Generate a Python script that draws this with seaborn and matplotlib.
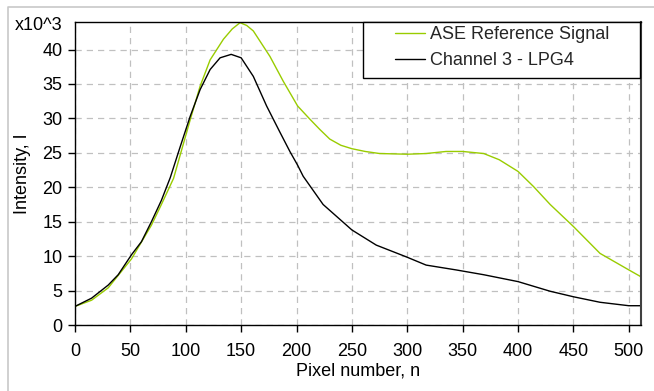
import matplotlib
matplotlib.use("Agg")
import matplotlib.pyplot as plt
import seaborn as sns
import pandas as pd
from matplotlib.lines import Line2D
from matplotlib.patches import Rectangle

# Data (intensity in units of 10^3)
ase_x = [0, 15, 30, 51, 69, 78, 89, 104, 113, 122, 134, 142, 149, 155, 161, 176, 188, 201, 212,
         221, 230, 240, 250, 262, 275, 300, 317, 335, 350, 369, 383, 400, 414, 429, 450, 474, 500, 511]
ase_y = [2.7, 3.6, 5.4, 9.6, 14.5, 17.5, 21.3, 29.8, 34.7, 38.5, 41.5, 43.0, 43.9, 43.5, 42.7, 39.0, 35.4, 31.8, 29.9,
         28.4, 27.0, 26.1, 25.6, 25.2, 24.9, 24.8, 24.9, 25.2, 25.2, 24.9, 24.0, 22.3, 20.1, 17.5, 14.3, 10.4, 8.0, 7.0]

ch3_x = [0, 15, 30, 39, 51, 60, 69, 78, 86, 95, 104, 113, 122, 131, 141, 150, 161, 173, 185,
         194, 201, 206, 224, 250, 272, 299, 317, 344, 369, 400, 429, 450, 474, 500, 511]
ch3_y = [2.7, 3.9, 5.8, 7.3, 10.2, 12.1, 15.0, 18.1, 21.4, 25.9, 30.3, 34.2, 37.1, 38.8, 39.3, 38.8, 36.1, 31.8, 28.0,
         25.2, 23.2, 21.6, 17.5, 13.8, 11.6, 9.9, 8.7, 8.0, 7.3, 6.3, 4.9, 4.1, 3.3, 2.8, 2.8]

series_names = ["ASE Reference Signal", "Channel 3 - LPG4"]
x_ticks = list(range(0, 501, 50))
y_ticks = list(range(0, 41, 5))

df = pd.concat([
    pd.DataFrame({"n": ase_x, "I": ase_y, "series": series_names[0]}),
    pd.DataFrame({"n": ch3_x, "I": ch3_y, "series": series_names[1]}),
])

sns.set_theme(style="white")
plt.rcParams["font.family"] = ["Liberation Sans", "DejaVu Sans"]

FS = 13
W, H = 654, 391
fig = plt.figure(figsize=(W / 100, H / 100), dpi=100)
ax = fig.add_axes([75 / W, 1 - 325 / H, (641 - 75) / W, (325 - 22) / H])

sns.lineplot(data=df, x="n", y="I", hue="series", sort=False, estimator=None,
             palette={series_names[0]: "#99CC00", series_names[1]: "#000000"},
             linewidth=1.0, ax=ax)

ax.set_xlim(0, 511)
ax.set_ylim(0, 44)
ax.set_xticks(x_ticks)
ax.set_yticks(y_ticks)
ax.tick_params(axis="both", direction="out", length=5, width=1, color="black",
               labelsize=FS, labelcolor="black", bottom=True, left=True)
ax.tick_params(axis="y", pad=4)
ax.tick_params(axis="x", pad=8)
ax.grid(True, color="#c0c0c0", linestyle=(0, (5, 4)), linewidth=0.9)
for s in ax.spines.values():
    s.set_visible(True)
    s.set_color("black")
    s.set_linewidth(1.0)
ax.spines["right"].set_color("#404040")
ax.spines["right"].set_linewidth(1.5)

ax.set_xlabel("Pixel number, n", fontsize=FS, color="black", labelpad=2)
ax.set_ylabel("Intensity, I", fontsize=FS, color="black", labelpad=8)

leg = ax.legend(loc="upper left", bbox_to_anchor=(395 / W, 1 - 26 / H),
                bbox_transform=fig.transFigure, borderaxespad=0, borderpad=0,
                fontsize=FS, frameon=False, handlelength=1.64, handletextpad=0.3,
                labelspacing=0.5, title=None)
leg.set_zorder(6)
for line in leg.get_lines():
    line.set_linewidth(1.0)

# legend frame
ax.add_patch(Rectangle((363 / W, 1 - 78 / H), 277 / W, 56 / H, transform=fig.transFigure,
                       facecolor="white", edgecolor="black", linewidth=1.0,
                       zorder=5.5, clip_on=False))

fig.text(15 / W, 1 - 26 / H, "x10^3", fontsize=FS, color="black", va="center", ha="left")

# figure frame (light gray)
fig.add_artist(Line2D([8 / W, 8 / W, 1.0], [0.0, 1 - 7 / H, 1 - 7 / H],
                      transform=fig.transFigure, color="#c8c8c8", linewidth=1.2))

fig.savefig("out.png", dpi=100)
